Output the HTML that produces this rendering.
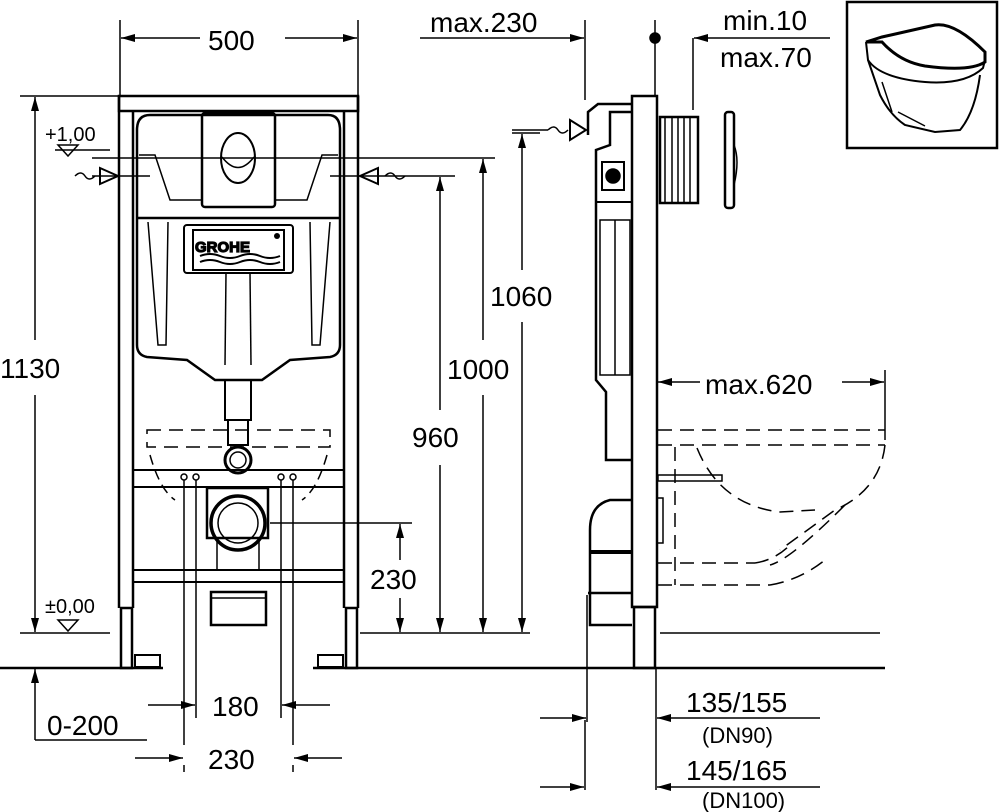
<!DOCTYPE html>
<html><head><meta charset="utf-8"><style>
html,body{margin:0;padding:0;background:#fff}
svg{display:block}
text{font-family:"Liberation Sans",sans-serif;fill:#000}
</style></head><body>
<svg width="1000" height="812" viewBox="0 0 1000 812" xmlns="http://www.w3.org/2000/svg">
<defs>
<marker id="a" markerWidth="14" markerHeight="8" refX="14" refY="4" orient="auto" markerUnits="userSpaceOnUse"><path d="M0,0 L14,4 L0,8 Z" fill="#000"/></marker>
</defs>
<g stroke="#000" fill="none" stroke-width="1.5">
<line x1="120" y1="20" x2="120" y2="96"/><line x1="358" y1="20" x2="358" y2="96"/>
<line x1="160" y1="38" x2="121" y2="38" marker-end="url(#a)"/><line x1="318" y1="38" x2="357" y2="38" marker-end="url(#a)"/>
<line x1="160" y1="38" x2="200" y2="38"/><line x1="285" y1="38" x2="318" y2="38"/>
<line x1="20" y1="96" x2="118" y2="96"/>
<line x1="35" y1="340" x2="35" y2="97" marker-end="url(#a)"/><line x1="35" y1="395" x2="35" y2="632" marker-end="url(#a)"/>
<line x1="20" y1="633" x2="110" y2="633"/>
<line x1="55" y1="150" x2="110" y2="150"/>
<path d="M58,145 L78,145 L68,156 Z"/><path d="M58,620 L78,620 L68,631 Z"/>
<line x1="0" y1="668" x2="163" y2="668" stroke-width="2.5"/>
<line x1="313" y1="668" x2="885" y2="668" stroke-width="2.5"/>
<rect x="119" y="96" width="239" height="15" stroke-width="2.5"/>
<line x1="119" y1="96" x2="119" y2="608" stroke-width="2.5"/><line x1="133" y1="111" x2="133" y2="608" stroke-width="2.5"/>
<line x1="344" y1="111" x2="344" y2="608" stroke-width="2.5"/><line x1="358" y1="96" x2="358" y2="608" stroke-width="2.5"/>
<rect x="121" y="608" width="11" height="60" stroke-width="2.5"/><rect x="346" y="608" width="11" height="60" stroke-width="2.5"/>
<rect x="135" y="655" width="25" height="12" stroke-width="2"/><rect x="318" y="655" width="25" height="12" stroke-width="2"/>
<rect x="133" y="470" width="211" height="17" stroke-width="2"/>
<rect x="133" y="570" width="211" height="12" stroke-width="2"/>
<path d="M150,115 L328,115 Q340,115 340,130 L340,345 Q340,355 330,357 L290,360 L262,380 L215,380 L187,360 L147,357 Q137,355 137,345 L137,130 Q137,115 150,115 Z" stroke-width="2.5"/>
<line x1="137" y1="218" x2="340" y2="218" stroke-width="2.5"/>
<path d="M139,155 L155,155 L170,200 L202,200"/><path d="M338,155 L322,155 L307,200 L275,200"/>
<rect x="202" y="113" width="73" height="94" rx="3" stroke-width="2.5"/>
<ellipse cx="238" cy="158" rx="17" ry="25" stroke-width="2"/>
<path d="M222,157 Q238,178 254,157"/>
<rect x="184" y="225" width="109" height="48" rx="3" stroke-width="2"/>
<rect x="193" y="230" width="91" height="40" stroke-width="2"/>
<path d="M200,256 q10,-4 20,0 t20,0 t20,0 t20,0 M200,262 q10,-4 20,0 t20,0 t20,0 t20,0" stroke-width="2"/>
<path d="M148,222 L158,345 L166,345 L168,222 M330,222 L320,345 L312,345 L310,222"/>
<line x1="226" y1="273" x2="225" y2="365"/><line x1="250" y1="273" x2="251" y2="365"/>
<rect x="225" y="380" width="26" height="40" stroke-width="2"/>
<rect x="228" y="420" width="20" height="25" stroke-width="2"/>
<circle cx="238" cy="460" r="13" stroke-width="3"/><circle cx="238" cy="460" r="8"/>
<rect x="147" y="430" width="183" height="17" stroke-dasharray="14,8"/>
<path d="M150,455 Q160,490 175,500 M327,455 Q317,490 302,500" stroke-dasharray="10,6"/>
<rect x="207" y="488" width="61" height="50" stroke-width="2.5"/>
<circle cx="238" cy="523" r="27" stroke-width="3.5"/><circle cx="238" cy="523" r="20"/>
<rect x="217" y="538" width="42" height="32"/>
<rect x="211" y="592" width="55" height="33" stroke-width="2.5"/><line x1="211" y1="598" x2="266" y2="598"/>
<circle cx="184" cy="477" r="3"/><circle cx="196" cy="477" r="3"/><circle cx="281" cy="477" r="3"/><circle cx="293" cy="477" r="3"/>
<line x1="92" y1="158" x2="495" y2="158"/>
<line x1="92" y1="176" x2="150" y2="176"/><line x1="330" y1="176" x2="455" y2="176"/>
<path d="M100,168 L118,176 L100,184 Z" stroke-width="2"/><path d="M378,168 L360,176 L378,184 Z" stroke-width="2"/>
<path d="M75,176 q6,-6 10,0 t10,0"/><path d="M385,176 q6,-6 10,0 t10,0"/>
<line x1="184" y1="480" x2="184" y2="745"/><line x1="196" y1="480" x2="196" y2="718"/>
<line x1="281" y1="480" x2="281" y2="718"/><line x1="293" y1="480" x2="293" y2="745"/>
<line x1="148" y1="705" x2="195" y2="705" marker-end="url(#a)"/><line x1="330" y1="705" x2="282" y2="705" marker-end="url(#a)"/>
<line x1="135" y1="758" x2="183" y2="758" marker-end="url(#a)"/><line x1="342" y1="758" x2="294" y2="758" marker-end="url(#a)"/>
<line x1="184" y1="765" x2="184" y2="772"/><line x1="293" y1="765" x2="293" y2="772"/>
<line x1="35" y1="700" x2="35" y2="669" marker-end="url(#a)"/><line x1="35" y1="700" x2="35" y2="740"/>
<line x1="35" y1="740" x2="147" y2="740"/>
<line x1="360" y1="633" x2="530" y2="633"/>
<line x1="270" y1="523" x2="412" y2="523"/>
<line x1="400" y1="560" x2="400" y2="524" marker-end="url(#a)"/><line x1="400" y1="598" x2="400" y2="632" marker-end="url(#a)"/>
<line x1="440" y1="410" x2="440" y2="177" marker-end="url(#a)"/><line x1="440" y1="465" x2="440" y2="632" marker-end="url(#a)"/>
<line x1="483" y1="340" x2="483" y2="159" marker-end="url(#a)"/><line x1="483" y1="395" x2="483" y2="632" marker-end="url(#a)"/>
<line x1="522" y1="270" x2="522" y2="134" marker-end="url(#a)"/><line x1="522" y1="322" x2="522" y2="632" marker-end="url(#a)"/>
<line x1="512" y1="133" x2="540" y2="133"/>
<line x1="420" y1="38" x2="584" y2="38" marker-end="url(#a)"/>
<line x1="585" y1="20" x2="585" y2="100"/>
<line x1="655" y1="20" x2="655" y2="96"/><line x1="693" y1="38" x2="693" y2="110"/>
<line x1="830" y1="38" x2="694" y2="38" marker-end="url(#a)"/>
<circle cx="655" cy="38" r="5" fill="#000"/>
<rect x="632" y="96" width="25" height="511" stroke-width="2.5"/>
<rect x="634" y="607" width="21" height="61" stroke-width="2.5"/>
<path d="M632,104 L598,104 L588,112 L588,135 M632,112 L610,112 L610,145 L596,150 L596,380 L606,392 L606,460 L632,460" stroke-width="2.5"/>
<line x1="596" y1="202" x2="632" y2="202" stroke-width="2"/>
<rect x="602" y="162" width="22" height="28" stroke-width="2"/><circle cx="613" cy="176" r="7" fill="#000"/>
<rect x="600" y="220" width="30" height="155"/><line x1="615" y1="220" x2="615" y2="375"/>
<path d="M548,130 q6,-6 10,0 t10,0" /><line x1="512" y1="130" x2="548" y2="130"/>
<path d="M570,120 L586,130 L570,140 Z" stroke-width="2"/>
<rect x="660" y="117" width="38" height="86" stroke-width="2.5"/>
<path d="M665,117 V203 M672,117 V203 M678,117 V203 M684,117 V203 M690,117 V203"/>
<rect x="725" y="112" width="9" height="96" rx="3" stroke-width="2.5"/>
<path d="M734,145 Q740,160 734,185"/>
<path d="M632,500 L610,500 Q590,505 590,530 L590,625 L632,625" stroke-width="2.5"/>
<line x1="590" y1="552" x2="632" y2="552" stroke-width="4"/><line x1="588" y1="593" x2="632" y2="593" stroke-width="2.5"/>
<line x1="587" y1="595" x2="587" y2="722"/><line x1="585" y1="720" x2="585" y2="790"/>
<line x1="656" y1="668" x2="656" y2="790"/>
<line x1="700" y1="382" x2="658" y2="382" marker-end="url(#a)"/><line x1="842" y1="382" x2="884" y2="382" marker-end="url(#a)"/>
<line x1="885" y1="370" x2="885" y2="440"/>
<g stroke-dasharray="14,8">
<line x1="658" y1="430" x2="885" y2="430"/><line x1="658" y1="445" x2="885" y2="445"/>
<path d="M885,445 Q880,490 835,510 L780,550"/>
<path d="M697,448 Q720,505 780,512 L815,510"/>
<path d="M845,505 Q790,560 770,565"/>
<line x1="675" y1="447" x2="675" y2="585"/>
<line x1="658" y1="563" x2="755" y2="563"/><line x1="658" y1="585" x2="770" y2="585"/>
<path d="M755,563 Q775,560 790,545 M770,585 Q800,580 825,560"/>
</g>
<rect x="658" y="475" width="64" height="6"/>
<rect x="657" y="498" width="6" height="45"/>
<line x1="660" y1="633" x2="880" y2="633"/>
<line x1="540" y1="718" x2="586" y2="718" marker-end="url(#a)"/><line x1="820" y1="718" x2="657" y2="718" marker-end="url(#a)"/>
<line x1="540" y1="787" x2="584" y2="787" marker-end="url(#a)"/><line x1="820" y1="787" x2="657" y2="787" marker-end="url(#a)"/>
<rect x="847" y="2" width="150" height="146" stroke-width="2.5"/>
<path d="M866,42 L882,37 L935,25 Q955,22 985,52 L985,62 Q970,72 925,66 Q900,62 882,42 Z" stroke-width="3"/>
<path d="M866,42 L868,60 Q880,78 925,82 Q965,85 983,68 L985,60" stroke-width="2"/>
<path d="M868,60 L880,95 Q890,115 905,125 L935,132 L960,130 Q975,112 980,75" stroke-width="2"/>
<path d="M882,82 L892,112 M898,112 L925,126" stroke-width="1.5"/>
</g>
<g font-size="28">
<text x="208" y="50">500</text>
<text x="0" y="378">1130</text>
<text x="490" y="306">1060</text>
<text x="447" y="379">1000</text>
<text x="412" y="447">960</text>
<text x="370" y="589">230</text>
<text x="212" y="716">180</text>
<text x="208" y="769">230</text>
<text x="47" y="735">0-200</text>
<text x="430" y="32">max.230</text>
<text x="723" y="30">min.10</text>
<text x="720" y="67">max.70</text>
<text x="705" y="394">max.620</text>
<text x="686" y="712">135/155</text>
<text x="686" y="780">145/165</text>
</g>
<g font-size="20">
<text x="45" y="141">+1,00</text>
<text x="45" y="613">±0,00</text>
</g>
<g font-size="22">
<text x="702" y="743">(DN90)</text>
<text x="702" y="808">(DN100)</text>
</g>
<text x="195" y="252" font-size="15" font-weight="bold" fill="#fff" stroke="#000" stroke-width="1.2">GROHE</text>
<circle cx="277" cy="236" r="3" fill="#000"/>
</svg>
</body></html>
